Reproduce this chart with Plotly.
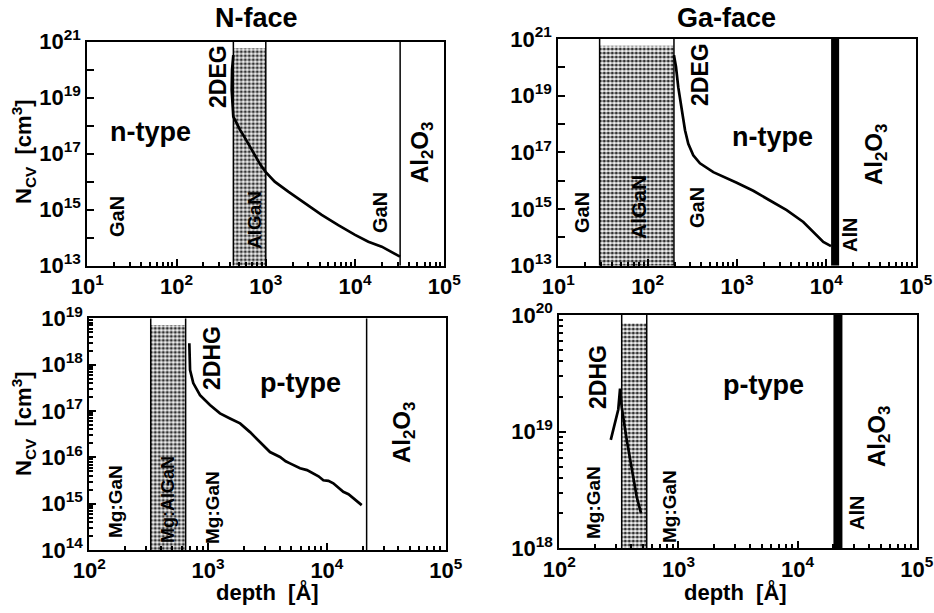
import plotly.graph_objects as go

W, H = 934, 613

# ---------------- data ----------------
# N-face, n-type (top-left)
nf_n_depth = [432.5, 418.8, 415, 421.7, 432.5, 478.6, 514, 575, 661, 759, 871, 1000, 1259, 1786, 2748, 4227, 6486, 10000, 14090, 19910, 31920]
nf_n_ncv = [3.3e20, 1.0e20, 1.9e19, 5.0e18, 2.1e18, 1.12e18, 7.1e17, 4.0e17, 1.8e17, 7.9e16, 4.0e16, 2.2e16, 1.0e16, 4.4e15, 1.7e15, 6.5e14, 2.8e14, 1.26e14, 7.2e13, 4.8e13, 2.1e13]
nf_n_layers = [433, 1000]          # AlGaN barrier
nf_n_substrate = 32000             # GaN / Al2O3 interface

# Ga-face, n-type (top-right)
gf_n_depth = [197, 207.5, 220, 240, 262, 285, 324, 385, 543, 993, 1521, 2339, 3597, 5521, 7798, 9247, 11272]
gf_n_ncv = [2.7e20, 1.05e20, 2.0e19, 3.1e18, 6.0e17, 2.0e17, 7.9e16, 4.1e16, 2.0e16, 8.5e15, 4.4e15, 2.0e15, 9.1e14, 3.5e14, 1.17e14, 6.9e13, 4.9e13]
gf_n_layers = [29, 197]
gf_n_aln = [11300, 13900]

# N-face, p-type (bottom-left)
nf_p_depth = [695, 705, 750, 855, 1037, 1259, 1528, 1858, 2254, 2735, 3319, 4027, 4500, 4887, 5400, 5943, 6800, 7691, 8500, 9333, 10300, 11324, 12400, 13740, 15200, 16672, 18000, 19634]
nf_p_ncv = [2.9e18, 7.6e17, 4.0e17, 2.2e17, 1.35e17, 8.9e16, 6.9e16, 5.4e16, 3.5e16, 2.1e16, 1.3e16, 1.02e16, 8.2e15, 7.4e15, 6.6e15, 5.8e15, 5.3e15, 4.5e15, 3.9e15, 3.2e15, 3.1e15, 2.75e15, 2.3e15, 1.8e15, 1.6e15, 1.3e15, 1.1e15, 9.3e14]
nf_p_layers = [329, 647]
nf_p_substrate = 21600

# Ga-face, p-type (bottom-right)
gf_p_depth = [270.4, 283.8, 299.2, 312.6, 323.6, 334.2, 368.1, 405.5, 446.7, 485.3]
gf_p_ncv = [8.5e18, 1.02e19, 1.26e19, 1.55e19, 2.34e19, 1.62e19, 8.5e18, 4.7e18, 2.75e18, 2.0e18]
gf_p_layers = [334, 542]
gf_p_aln = [20000, 23800]

# shaded-barrier top (density units)
shade_top = {"tl": 5.8e20, "tr": 5.8e20, "bl": 7.2e18, "br": 8.5e19}

# axis ranges (log10)
x_top = [1, 5]
y_top = [13, 21]
x_bot = [2, 5]
y_bl = [14, 19]
y_br = [18, 20]

FONT = "Liberation Sans"


def P(x, y):
    return x / W, 1 - y / H


def sup_label(e):
    return "10<sup>%d</sup>" % e


def minor_vals(lo, hi):
    return [m * 10.0 ** k for k in range(lo, hi) for m in range(2, 10)]


fig = go.Figure()

panels = {
    "tl": dict(xa="x", ya="y"),
    "tr": dict(xa="x2", ya="y2"),
    "bl": dict(xa="x3", ya="y3"),
    "br": dict(xa="x4", ya="y4"),
}
yr = {"tl": y_top, "tr": y_top, "bl": y_bl, "br": y_br}

pattern = dict(shape=".", fgcolor="#333333", bgcolor="#f2f2f2", size=4, solidity=0.5, fillmode="replace")


def add_shade(key, a, b):
    p = panels[key]
    ylo = 10.0 ** yr[key][0]
    top = shade_top[key]
    fig.add_trace(go.Scatter(x=[a, b, b, a, a], y=[ylo, ylo, top, top, ylo], mode="lines",
                             fill="toself", fillcolor="#c8c8c8", fillpattern=pattern,
                             line=dict(width=0), hoverinfo="skip", showlegend=False,
                             xaxis=p["xa"], yaxis=p["ya"]))


def add_vline(key, a, w=1.5):
    p = panels[key]
    fig.add_trace(go.Scatter(x=[a, a], y=[10.0 ** yr[key][0], 10.0 ** yr[key][1]], mode="lines",
                             line=dict(color="black", width=w), hoverinfo="skip", showlegend=False,
                             xaxis=p["xa"], yaxis=p["ya"]))


def add_bar(key, a, b):
    p = panels[key]
    ylo, yhi = 10.0 ** yr[key][0], 10.0 ** yr[key][1]
    fig.add_trace(go.Scatter(x=[a, b, b, a, a], y=[ylo, ylo, yhi, yhi, ylo], mode="lines",
                             fill="toself", fillcolor="black", line=dict(width=0, color="black"),
                             hoverinfo="skip", showlegend=False, xaxis=p["xa"], yaxis=p["ya"]))


def add_curve(key, xs, ys):
    p = panels[key]
    fig.add_trace(go.Scatter(x=xs, y=ys, mode="lines", line=dict(color="black", width=2.7),
                             hoverinfo="skip", showlegend=False, xaxis=p["xa"], yaxis=p["ya"]))


# top-left
add_shade("tl", *nf_n_layers)
for v in nf_n_layers + [nf_n_substrate]:
    add_vline("tl", v)
add_curve("tl", nf_n_depth, nf_n_ncv)
# top-right
add_shade("tr", *gf_n_layers)
for v in gf_n_layers:
    add_vline("tr", v)
add_bar("tr", *gf_n_aln)
add_curve("tr", gf_n_depth, gf_n_ncv)
# bottom-left
add_shade("bl", *nf_p_layers)
for v in nf_p_layers + [nf_p_substrate]:
    add_vline("bl", v)
add_curve("bl", nf_p_depth, nf_p_ncv)
# bottom-right
add_shade("br", *gf_p_layers)
for v in gf_p_layers:
    add_vline("br", v)
add_bar("br", *gf_p_aln)
add_curve("br", gf_p_depth, gf_p_ncv)

tickfont = dict(family=FONT, size=22, color="black", weight="bold")


def axis(domain, rng, tickvals, ticktext, minor, anchor):
    d = dict(type="log", domain=domain, range=rng, showline=True, linecolor="black", linewidth=2,
             mirror=True, ticks="inside", ticklen=7, tickwidth=2, tickcolor="black",
             showgrid=False, zeroline=False, tickvals=tickvals, ticktext=ticktext,
             tickfont=tickfont, anchor=anchor, fixedrange=True, automargin=False)
    if minor:
        d["minor"] = dict(tickvals=minor, ticks="inside", ticklen=4, tickwidth=1.5, tickcolor="black",
                          showgrid=False)
    return d


def xdom(l, r):
    return [l / W, r / W]


def ydom(t, b):
    return [1 - b / H, 1 - t / H]


xt_top = [10.0 ** k for k in range(1, 6)]
xt_bot = [10.0 ** k for k in range(2, 6)]
yt_top = [10.0 ** k for k in range(13, 22)]
yt_top_text = [sup_label(k) if (k % 2 == 1) else "" for k in range(13, 22)]
yt_bl = [10.0 ** k for k in range(14, 20)]
yt_br = [10.0 ** k for k in range(18, 21)]

fig.update_layout(
    width=W, height=H, margin=dict(l=0, r=0, t=0, b=0, pad=0), autosize=False,
    paper_bgcolor="white", plot_bgcolor="white", showlegend=False,
    xaxis=axis(xdom(87.3, 444.3), x_top, xt_top, [sup_label(k) for k in range(1, 6)], minor_vals(1, 5), "y"),
    yaxis=axis(ydom(41.7, 265.7), y_top, yt_top, yt_top_text, None, "x"),
    xaxis2=axis(xdom(558.3, 915.7), x_top, xt_top, [sup_label(k) for k in range(1, 6)], minor_vals(1, 5), "y2"),
    yaxis2=axis(ydom(39, 265.7), y_top, yt_top, yt_top_text, None, "x2"),
    xaxis3=axis(xdom(89.3, 445.7), x_bot, xt_bot, [sup_label(k) for k in range(2, 6)], minor_vals(2, 5), "y3"),
    yaxis3=axis(ydom(318.3, 550), y_bl, yt_bl, [sup_label(k) for k in range(14, 20)], minor_vals(14, 19), "x3"),
    xaxis4=axis(xdom(559.3, 916.7), x_bot, xt_bot, [sup_label(k) for k in range(2, 6)], minor_vals(2, 5), "y4"),
    yaxis4=axis(ydom(315, 548.3), y_br, yt_br, [sup_label(k) for k in range(18, 21)], minor_vals(18, 20), "x4"),
)

AL2O3 = "Al<sub>2</sub>O<sub>3</sub>"
labels = [
    # text, x, y, size, angle
    ("N-face", 256, 18, 27, 0),
    ("Ga-face", 726, 18, 27, 0),
    ("2DEG", 218, 77, 23, -90),
    ("n-type", 150, 132, 27, 0),
    ("GaN", 117, 217, 20, -90),
    ("AlGaN", 254, 220, 19, -90),
    ("GaN", 380, 213, 20, -90),
    (AL2O3, 422, 153, 24, -90),
    ("GaN", 582, 213, 20, -90),
    ("AlGaN", 638, 207, 21, -90),
    ("2DEG", 700, 75, 23, -90),
    ("GaN", 697, 208, 20, -90),
    ("n-type", 772, 137, 27, 0),
    ("AlN", 850, 235, 20, -90),
    (AL2O3, 875, 155, 24, -90),
    ("2DHG", 212, 358, 23, -90),
    ("p-type", 300, 383, 27, 0),
    ("Mg:GaN", 115, 502, 19, -90),
    ("Mg:AlGaN", 168, 500, 18, -90),
    ("Mg:GaN", 212, 508, 19, -90),
    (AL2O3, 403, 433, 24, -90),
    ("2DHG", 598, 377, 23, -90),
    ("p-type", 763, 385, 27, 0),
    ("Mg:GaN", 593, 503, 19, -90),
    ("Mg:GaN", 670, 507, 19, -90),
    ("AlN", 857, 513, 20, -90),
    (AL2O3, 878, 437, 24, -90),
    ("N<sub>CV</sub>  [cm<sup>3</sup>]", 24, 152, 22, -90),
    ("N<sub>CV</sub>  [cm<sup>3</sup>]", 23, 424, 22, -90),
    ("depth  [Å]", 267, 592, 22, 0),
    ("depth  [Å]", 735, 592, 22, 0),
]
for text, x, y, size, ang in labels:
    px, py = P(x, y)
    fig.add_annotation(text=text, x=px, y=py, xref="paper", yref="paper", showarrow=False,
                       xanchor="center", yanchor="middle", textangle=ang,
                       font=dict(family=FONT, size=size, color="black", weight="bold"))

fig.write_html("out.html")
